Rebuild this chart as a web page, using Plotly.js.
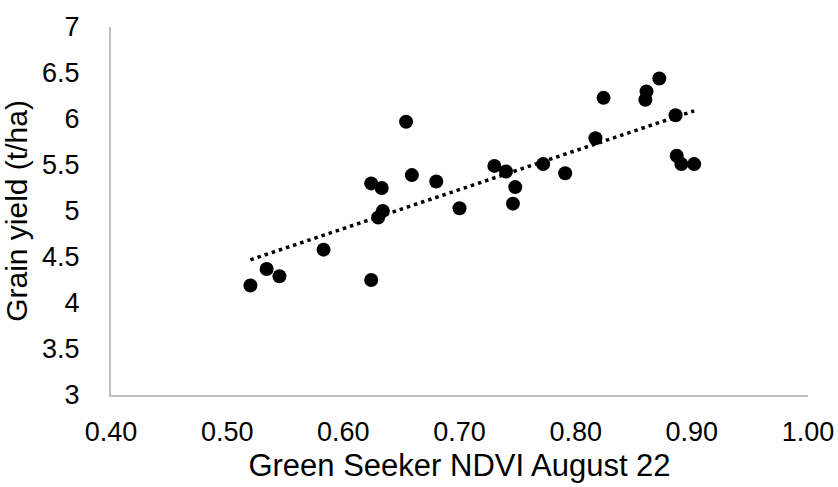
<!DOCTYPE html>
<html>
<head>
<meta charset="utf-8">
<script src="https://cdn.plot.ly/plotly-3.0.1.min.js"></script>
<style>html,body{margin:0;padding:0;background:#fff;}#chart{width:838px;height:487px;}</style>
</head>
<body>
<div id="chart"></div>
<script>
const ndvi = [0.520, 0.534, 0.545, 0.583, 0.624, 0.624, 0.630, 0.633, 0.634, 0.654, 0.659, 0.680, 0.700, 0.730, 0.740, 0.746, 0.748, 0.772, 0.791, 0.817, 0.824, 0.860, 0.861, 0.872, 0.886, 0.887, 0.891, 0.902];
const grainYield = [4.19, 4.37, 4.29, 4.58, 4.25, 5.30, 4.93, 5.25, 5.00, 5.97, 5.39, 5.32, 5.03, 5.49, 5.43, 5.08, 5.26, 5.51, 5.41, 5.79, 6.23, 6.21, 6.30, 6.44, 6.04, 5.60, 5.51, 5.51];
const xTickVals = [0.4, 0.5, 0.6, 0.7, 0.8, 0.9, 1.0];
const yTickVals = [3, 3.5, 4, 4.5, 5, 5.5, 6, 6.5, 7];

// linear least-squares trendline
const n = ndvi.length;
const mx = ndvi.reduce((a,b)=>a+b,0)/n;
const my = grainYield.reduce((a,b)=>a+b,0)/n;
let sxy=0, sxx=0;
for (let i=0;i<n;i++){ sxy += (ndvi[i]-mx)*(grainYield[i]-my); sxx += (ndvi[i]-mx)**2; }
const slope = sxy/sxx, intercept = my - slope*mx;
const xmin = Math.min(...ndvi), xmax = Math.max(...ndvi);
const trendX = [xmin, xmax];
const trendY = trendX.map(x => intercept + slope*x);

const font = 'Liberation Sans, Arial, sans-serif';
const data = [
  {x: ndvi, y: grainYield, type:'scatter', mode:'markers',
   marker:{color:'#000', size:14, line:{width:0}}, showlegend:false, hoverinfo:'skip'},
  {x: trendX, y: trendY, type:'scatter', mode:'lines',
   line:{color:'#000', width:3.5, dash:'3.5px,4px'}, showlegend:false, hoverinfo:'skip'}
];
const layout = {
  width:838, height:487,
  margin:{l:111, r:30, t:27, b:92},
  paper_bgcolor:'#fff', plot_bgcolor:'#fff',
  font:{family:font, color:'#000'},
  xaxis:{range:[0.4,1.0], tickvals:xTickVals, tickformat:'.2f', showgrid:false, zeroline:false,
    showline:true, linecolor:'#bfbfbf', linewidth:2, ticks:'', ticklabelstandoff:12,
    tickfont:{size:27, family:font, color:'#000'},
    title:{text:'Green Seeker NDVI August 22', font:{size:31, family:font, color:'#000'}, standoff:8}},
  yaxis:{range:[3,7], tickvals:yTickVals, showgrid:false, zeroline:false,
    showline:true, linecolor:'#bfbfbf', linewidth:2, ticks:'', ticklabelstandoff:24,
    tickfont:{size:27, family:font, color:'#000'},
    title:{text:'Grain yield (t/ha)', font:{size:30, family:font, color:'#000'}, standoff:8}}
};
Plotly.newPlot('chart', data, layout, {staticPlot:true, displayModeBar:false});
</script>
</body>
</html>
